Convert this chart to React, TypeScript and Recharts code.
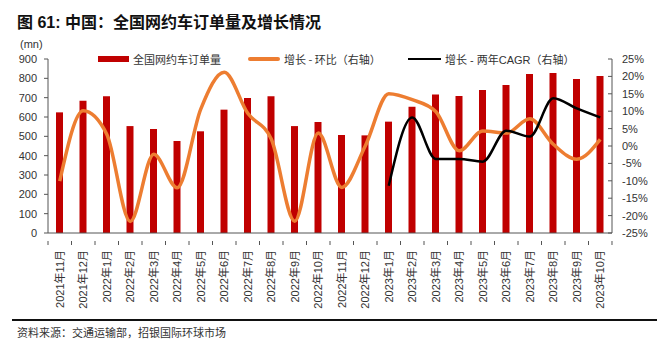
import { Bar, ComposedChart, Line, XAxis, YAxis } from "recharts";

const months = [
  "2021年11月", "2021年12月", "2022年1月", "2022年2月", "2022年3月", "2022年4月",
  "2022年5月", "2022年6月", "2022年7月", "2022年8月", "2022年9月", "2022年10月",
  "2022年11月", "2022年12月", "2023年1月", "2023年2月", "2023年3月", "2023年4月",
  "2023年5月", "2023年6月", "2023年7月", "2023年8月", "2023年9月", "2023年10月",
];

// 订单量 (mn)
const orders = [
  624, 684, 707, 553, 538, 476, 526, 638, 698, 707, 553, 574,
  507, 505, 576, 653, 717, 709, 740, 766, 822, 828, 797, 812,
];

// 环比 (%)
const mom = [
  -10.1, 10.1, 3.4, -21.7, -2.4, -12.0, 10.6, 21.2, 9.4, 2.0, -21.6, 3.7,
  -11.9, 0.0, 15.0, 13.3, 9.9, -1.4, 4.3, 3.7, 7.8, 0.5, -3.8, 1.9,
];

// 两年CAGR (%), 2023年1月起
const cagr: (number | null)[] = [
  null, null, null, null, null, null, null, null, null, null, null, null,
  null, null, -11.4, 8.2, -3.7, -3.7, -4.5, 4.4, 2.7, 13.7, 10.8, 8.2,
];

const leftTicks = [0, 100, 200, 300, 400, 500, 600, 700, 800, 900];
const rightTicks = [-25, -20, -15, -10, -5, 0, 5, 10, 15, 20, 25];

const data = months.map((m, i) => ({
  month: m,
  orders: orders[i],
  mom: mom[i],
  cagr: cagr[i],
}));

const FONT = "Arial, 'Liberation Sans', 'Noto Sans CJK SC', sans-serif";
const CJK = "'Noto Sans CJK SC', sans-serif";
const BAND = 563.5 / 24;

function MonthTick(props: any) {
  const { x, y, payload, index } = props;
  const last = index === months.length - 1;
  return (
    <g>
      <line x1={x - BAND / 2} y1={y} x2={x - BAND / 2} y2={y + 4} stroke="#555" />
      {last && <line x1={x + BAND / 2} y1={y} x2={x + BAND / 2} y2={y + 4} stroke="#555" />}
      <g transform={`translate(${x},${y})`}>
        <text
          transform="rotate(-90)"
          x={-9}
          y={0}
          textAnchor="end"
          dominantBaseline="central"
          fontSize={11}
          fill="#333"
          fontFamily={FONT}
        >
          {payload.value}
        </text>
      </g>
    </g>
  );
}

function ChartLegend() {
  const txt = { fontSize: 11, color: "#333", fontFamily: CJK, whiteSpace: "nowrap" as const };
  return (
    <div style={{ position: "absolute", left: 0, top: 52, height: 14, width: 667 }}>
      <div style={{ position: "absolute", left: 98, top: 4, width: 31, height: 6, background: "#C00000" }} />
      <span style={{ ...txt, position: "absolute", left: 133, top: -1 }}>全国网约车订单量</span>
      <div style={{ position: "absolute", left: 248, top: 5, width: 32, height: 4, borderRadius: 2, background: "#ED7D31" }} />
      <span style={{ ...txt, position: "absolute", left: 284, top: -1 }}>增长 - 环比（右轴）</span>
      <div style={{ position: "absolute", left: 408, top: 5.5, width: 33, height: 2.5, background: "#000" }} />
      <span style={{ ...txt, position: "absolute", left: 445, top: -1, fontFamily: FONT }}>增长 - 两年CAGR（右轴）</span>
    </div>
  );
}

export default function App() {
  return (
    <div style={{ position: "absolute", left: 0, top: 0, width: 667, height: 346, background: "#fff" }}>
      <div
        style={{
          position: "absolute",
          left: 17,
          top: 9,
          fontSize: 16,
          fontWeight: "bold",
          color: "#111",
          fontFamily: FONT,
          whiteSpace: "nowrap",
        }}
      >
        图 61: 中国：全国网约车订单量及增长情况
      </div>
      <div style={{ position: "absolute", left: 20, top: 38, fontSize: 11, color: "#333", fontFamily: FONT }}>
        (mn)
      </div>
      <ComposedChart
        width={667}
        height={346}
        data={data}
        margin={{ top: 59, right: 10, bottom: 43, left: 18 }}
        barCategoryGap={0}
      >
        <XAxis
          dataKey="month"
          interval={0}
          tick={<MonthTick />}
          tickLine={false}
          axisLine={{ stroke: "#555" }}
          height={70}
        />
        <YAxis
          yAxisId="left"
          domain={[0, 900]}
          ticks={leftTicks}
          width={30}
          tick={{ fontSize: 11, fill: "#333", fontFamily: FONT }}
          tickSize={4}
          tickMargin={7}
          tickLine={{ stroke: "#555" }}
          axisLine={{ stroke: "#555" }}
          interval={0}
        />
        <YAxis
          yAxisId="right"
          orientation="right"
          domain={[-25, 25]}
          ticks={rightTicks}
          width={45}
          tickFormatter={(v: number) => `${v}%`}
          tick={{ fontSize: 11, fill: "#333", fontFamily: FONT }}
          tickSize={-4}
          tickMargin={14}
          tickLine={{ stroke: "#555" }}
          axisLine={{ stroke: "#555" }}
          interval={0}
        />
        <Bar yAxisId="left" dataKey="orders" fill="#C00000" barSize={7} isAnimationActive={false} />
        <Line
          yAxisId="right"
          dataKey="mom"
          type="monotone"
          stroke="#ED7D31"
          strokeWidth={3.5}
          dot={false}
          isAnimationActive={false}
        />
        <Line
          yAxisId="right"
          dataKey="cagr"
          type="monotone"
          stroke="#000"
          strokeWidth={2.5}
          dot={false}
          connectNulls={false}
          isAnimationActive={false}
        />
      </ComposedChart>
      <ChartLegend />
      <div style={{ position: "absolute", left: 12, top: 319, width: 645, height: 2, background: "#111" }} />
      <div
        style={{
          position: "absolute",
          left: 17,
          top: 324,
          fontSize: 11,
          color: "#333",
          fontFamily: CJK,
          whiteSpace: "nowrap",
        }}
      >
        资料来源：交通运输部，招银国际环球市场
      </div>
    </div>
  );
}
